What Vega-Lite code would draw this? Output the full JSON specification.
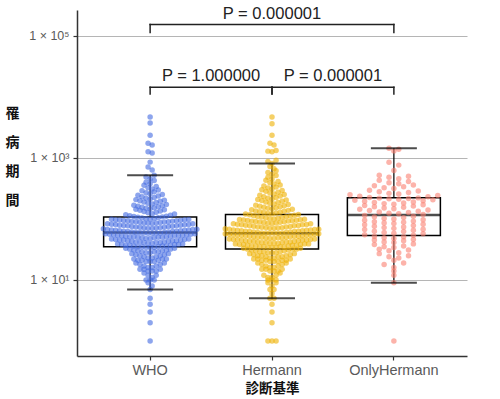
{
"$schema": "https://vega.github.io/schema/vega-lite/v6.json",
"width": 390, "height": 346,
"autosize": "none",
"padding": {"left": 77, "top": 10, "right": 33, "bottom": 43},
"config": {"font": "Liberation Sans", "view": {"stroke": null}},
"data": {"values": [
{"g":"WHO","v":1},{"g":"WHO","v":2},{"g":"WHO","v":3},{"g":"WHO","v":4},{"g":"WHO","v":5},{"g":"WHO","v":7},{"g":"WHO","v":8},{"g":"WHO","v":9},{"g":"WHO","v":10},{"g":"WHO","v":10},{"g":"WHO","v":10},{"g":"WHO","v":11},{"g":"WHO","v":12},{"g":"WHO","v":12},{"g":"WHO","v":13},{"g":"WHO","v":14},{"g":"WHO","v":14},{"g":"WHO","v":14},{"g":"WHO","v":15},{"g":"WHO","v":15},{"g":"WHO","v":15},
{"g":"WHO","v":16},{"g":"WHO","v":16},{"g":"WHO","v":17},{"g":"WHO","v":17},{"g":"WHO","v":18},{"g":"WHO","v":18},{"g":"WHO","v":19},{"g":"WHO","v":19},
{"g":"WHO","v":20},{"g":"WHO","v":20},{"g":"WHO","v":20},{"g":"WHO","v":21},{"g":"WHO","v":21},{"g":"WHO","v":21},{"g":"WHO","v":22},{"g":"WHO","v":22},{"g":"WHO","v":22},
{"g":"WHO","v":23},{"g":"WHO","v":23},{"g":"WHO","v":24},{"g":"WHO","v":24},{"g":"WHO","v":25},{"g":"WHO","v":25},{"g":"WHO","v":26},{"g":"WHO","v":26},{"g":"WHO","v":27},{"g":"WHO","v":27},
{"g":"WHO","v":28},{"g":"WHO","v":28},{"g":"WHO","v":29},{"g":"WHO","v":29},{"g":"WHO","v":29},{"g":"WHO","v":30},{"g":"WHO","v":30},{"g":"WHO","v":31},{"g":"WHO","v":31},{"g":"WHO","v":32},{"g":"WHO","v":32},{"g":"WHO","v":33},{"g":"WHO","v":33},
{"g":"WHO","v":34},{"g":"WHO","v":34},{"g":"WHO","v":34},{"g":"WHO","v":35},{"g":"WHO","v":35},{"g":"WHO","v":35},{"g":"WHO","v":36},{"g":"WHO","v":36},{"g":"WHO","v":36},{"g":"WHO","v":37},{"g":"WHO","v":37},{"g":"WHO","v":37},{"g":"WHO","v":38},{"g":"WHO","v":38},{"g":"WHO","v":38},{"g":"WHO","v":39},{"g":"WHO","v":39},
{"g":"WHO","v":40},{"g":"WHO","v":40},{"g":"WHO","v":41},{"g":"WHO","v":41},{"g":"WHO","v":41},{"g":"WHO","v":42},{"g":"WHO","v":42},{"g":"WHO","v":42},{"g":"WHO","v":43},{"g":"WHO","v":43},{"g":"WHO","v":44},{"g":"WHO","v":44},{"g":"WHO","v":44},{"g":"WHO","v":45},{"g":"WHO","v":45},{"g":"WHO","v":45},{"g":"WHO","v":46},{"g":"WHO","v":46},{"g":"WHO","v":47},{"g":"WHO","v":47},
{"g":"WHO","v":48},{"g":"WHO","v":48},{"g":"WHO","v":49},{"g":"WHO","v":49},{"g":"WHO","v":50},{"g":"WHO","v":50},{"g":"WHO","v":50},{"g":"WHO","v":51},{"g":"WHO","v":51},{"g":"WHO","v":51},{"g":"WHO","v":52},{"g":"WHO","v":52},{"g":"WHO","v":53},{"g":"WHO","v":53},{"g":"WHO","v":53},{"g":"WHO","v":54},{"g":"WHO","v":54},{"g":"WHO","v":55},{"g":"WHO","v":55},{"g":"WHO","v":56},{"g":"WHO","v":56},{"g":"WHO","v":57},{"g":"WHO","v":57},
{"g":"WHO","v":58},{"g":"WHO","v":58},{"g":"WHO","v":59},{"g":"WHO","v":59},{"g":"WHO","v":59},{"g":"WHO","v":60},{"g":"WHO","v":60},{"g":"WHO","v":60},{"g":"WHO","v":61},{"g":"WHO","v":61},{"g":"WHO","v":62},{"g":"WHO","v":62},{"g":"WHO","v":63},{"g":"WHO","v":63},{"g":"WHO","v":64},{"g":"WHO","v":64},{"g":"WHO","v":65},{"g":"WHO","v":65},{"g":"WHO","v":66},{"g":"WHO","v":66},{"g":"WHO","v":67},{"g":"WHO","v":67},{"g":"WHO","v":68},{"g":"WHO","v":69},
{"g":"WHO","v":70},{"g":"WHO","v":70},{"g":"WHO","v":71},{"g":"WHO","v":71},{"g":"WHO","v":72},{"g":"WHO","v":73},{"g":"WHO","v":73},{"g":"WHO","v":74},{"g":"WHO","v":75},{"g":"WHO","v":75},{"g":"WHO","v":76},{"g":"WHO","v":77},{"g":"WHO","v":77},{"g":"WHO","v":78},{"g":"WHO","v":79},{"g":"WHO","v":79},{"g":"WHO","v":80},{"g":"WHO","v":81},{"g":"WHO","v":81},{"g":"WHO","v":82},{"g":"WHO","v":83},{"g":"WHO","v":83},
{"g":"WHO","v":84},{"g":"WHO","v":85},{"g":"WHO","v":86},{"g":"WHO","v":86},{"g":"WHO","v":87},{"g":"WHO","v":88},{"g":"WHO","v":89},{"g":"WHO","v":90},{"g":"WHO","v":90},{"g":"WHO","v":91},{"g":"WHO","v":92},{"g":"WHO","v":93},{"g":"WHO","v":93},{"g":"WHO","v":94},{"g":"WHO","v":95},{"g":"WHO","v":96},{"g":"WHO","v":97},{"g":"WHO","v":97},{"g":"WHO","v":98},{"g":"WHO","v":99},
{"g":"WHO","v":100},{"g":"WHO","v":101},{"g":"WHO","v":102},{"g":"WHO","v":104},{"g":"WHO","v":105},{"g":"WHO","v":107},{"g":"WHO","v":108},{"g":"WHO","v":110},{"g":"WHO","v":111},{"g":"WHO","v":113},{"g":"WHO","v":115},{"g":"WHO","v":117},{"g":"WHO","v":120},
{"g":"WHO","v":122},{"g":"WHO","v":126},{"g":"WHO","v":129},{"g":"WHO","v":132},{"g":"WHO","v":135},{"g":"WHO","v":138},{"g":"WHO","v":141},{"g":"WHO","v":144},
{"g":"WHO","v":146},{"g":"WHO","v":149},{"g":"WHO","v":152},{"g":"WHO","v":155},{"g":"WHO","v":158},{"g":"WHO","v":161},{"g":"WHO","v":164},{"g":"WHO","v":168},{"g":"WHO","v":172},
{"g":"WHO","v":176},{"g":"WHO","v":180},{"g":"WHO","v":185},{"g":"WHO","v":190},{"g":"WHO","v":195},{"g":"WHO","v":199},{"g":"WHO","v":203},{"g":"WHO","v":207},
{"g":"WHO","v":212},{"g":"WHO","v":218},{"g":"WHO","v":225},{"g":"WHO","v":231},{"g":"WHO","v":237},{"g":"WHO","v":243},{"g":"WHO","v":250},
{"g":"WHO","v":258},{"g":"WHO","v":268},{"g":"WHO","v":278},{"g":"WHO","v":288},{"g":"WHO","v":298},
{"g":"WHO","v":310},{"g":"WHO","v":325},{"g":"WHO","v":340},{"g":"WHO","v":355},
{"g":"WHO","v":375},{"g":"WHO","v":400},{"g":"WHO","v":425},
{"g":"WHO","v":450},{"g":"WHO","v":485},{"g":"WHO","v":520},
{"g":"WHO","v":631},{"g":"WHO","v":708},{"g":"WHO","v":851},{"g":"WHO","v":1202},{"g":"WHO","v":1259},{"g":"WHO","v":1622},{"g":"WHO","v":1738},{"g":"WHO","v":2344},{"g":"WHO","v":3715},{"g":"WHO","v":4677},
{"g":"Hermann","v":1},{"g":"Hermann","v":1},{"g":"Hermann","v":1},{"g":"Hermann","v":2},{"g":"Hermann","v":3},{"g":"Hermann","v":4},{"g":"Hermann","v":5},{"g":"Hermann","v":5},{"g":"Hermann","v":6},{"g":"Hermann","v":7},{"g":"Hermann","v":7},{"g":"Hermann","v":8},{"g":"Hermann","v":9},{"g":"Hermann","v":9},{"g":"Hermann","v":10},{"g":"Hermann","v":10},{"g":"Hermann","v":10},{"g":"Hermann","v":11},{"g":"Hermann","v":11},{"g":"Hermann","v":12},{"g":"Hermann","v":12},{"g":"Hermann","v":13},{"g":"Hermann","v":14},{"g":"Hermann","v":14},{"g":"Hermann","v":14},{"g":"Hermann","v":15},{"g":"Hermann","v":15},{"g":"Hermann","v":15},
{"g":"Hermann","v":16},{"g":"Hermann","v":16},{"g":"Hermann","v":17},{"g":"Hermann","v":17},{"g":"Hermann","v":18},{"g":"Hermann","v":18},{"g":"Hermann","v":19},{"g":"Hermann","v":19},
{"g":"Hermann","v":20},{"g":"Hermann","v":20},{"g":"Hermann","v":20},{"g":"Hermann","v":21},{"g":"Hermann","v":21},{"g":"Hermann","v":21},{"g":"Hermann","v":21},{"g":"Hermann","v":22},{"g":"Hermann","v":22},{"g":"Hermann","v":22},
{"g":"Hermann","v":23},{"g":"Hermann","v":23},{"g":"Hermann","v":24},{"g":"Hermann","v":24},{"g":"Hermann","v":24},{"g":"Hermann","v":25},{"g":"Hermann","v":25},{"g":"Hermann","v":25},{"g":"Hermann","v":26},{"g":"Hermann","v":26},{"g":"Hermann","v":27},{"g":"Hermann","v":27},
{"g":"Hermann","v":28},{"g":"Hermann","v":28},{"g":"Hermann","v":28},{"g":"Hermann","v":29},{"g":"Hermann","v":29},{"g":"Hermann","v":29},{"g":"Hermann","v":30},{"g":"Hermann","v":30},{"g":"Hermann","v":31},{"g":"Hermann","v":31},{"g":"Hermann","v":32},{"g":"Hermann","v":32},{"g":"Hermann","v":32},{"g":"Hermann","v":33},{"g":"Hermann","v":33},
{"g":"Hermann","v":34},{"g":"Hermann","v":34},{"g":"Hermann","v":34},{"g":"Hermann","v":35},{"g":"Hermann","v":35},{"g":"Hermann","v":35},{"g":"Hermann","v":35},{"g":"Hermann","v":36},{"g":"Hermann","v":36},{"g":"Hermann","v":36},{"g":"Hermann","v":37},{"g":"Hermann","v":37},{"g":"Hermann","v":37},{"g":"Hermann","v":38},{"g":"Hermann","v":38},{"g":"Hermann","v":38},{"g":"Hermann","v":39},{"g":"Hermann","v":39},{"g":"Hermann","v":39},
{"g":"Hermann","v":40},{"g":"Hermann","v":40},{"g":"Hermann","v":40},{"g":"Hermann","v":41},{"g":"Hermann","v":41},{"g":"Hermann","v":41},{"g":"Hermann","v":42},{"g":"Hermann","v":42},{"g":"Hermann","v":42},{"g":"Hermann","v":43},{"g":"Hermann","v":43},{"g":"Hermann","v":43},{"g":"Hermann","v":44},{"g":"Hermann","v":44},{"g":"Hermann","v":45},{"g":"Hermann","v":45},{"g":"Hermann","v":45},{"g":"Hermann","v":46},{"g":"Hermann","v":46},{"g":"Hermann","v":46},{"g":"Hermann","v":47},{"g":"Hermann","v":47},
{"g":"Hermann","v":48},{"g":"Hermann","v":48},{"g":"Hermann","v":49},{"g":"Hermann","v":49},{"g":"Hermann","v":49},{"g":"Hermann","v":50},{"g":"Hermann","v":50},{"g":"Hermann","v":50},{"g":"Hermann","v":51},{"g":"Hermann","v":51},{"g":"Hermann","v":52},{"g":"Hermann","v":52},{"g":"Hermann","v":52},{"g":"Hermann","v":53},{"g":"Hermann","v":53},{"g":"Hermann","v":54},{"g":"Hermann","v":54},{"g":"Hermann","v":55},{"g":"Hermann","v":55},{"g":"Hermann","v":55},{"g":"Hermann","v":56},{"g":"Hermann","v":56},{"g":"Hermann","v":57},{"g":"Hermann","v":57},
{"g":"Hermann","v":58},{"g":"Hermann","v":58},{"g":"Hermann","v":58},{"g":"Hermann","v":59},{"g":"Hermann","v":59},{"g":"Hermann","v":59},{"g":"Hermann","v":60},{"g":"Hermann","v":60},{"g":"Hermann","v":61},{"g":"Hermann","v":61},{"g":"Hermann","v":62},{"g":"Hermann","v":62},{"g":"Hermann","v":63},{"g":"Hermann","v":63},{"g":"Hermann","v":64},{"g":"Hermann","v":64},{"g":"Hermann","v":65},{"g":"Hermann","v":65},{"g":"Hermann","v":66},{"g":"Hermann","v":66},{"g":"Hermann","v":67},{"g":"Hermann","v":68},{"g":"Hermann","v":68},{"g":"Hermann","v":69},
{"g":"Hermann","v":70},{"g":"Hermann","v":70},{"g":"Hermann","v":71},{"g":"Hermann","v":72},{"g":"Hermann","v":72},{"g":"Hermann","v":73},{"g":"Hermann","v":74},{"g":"Hermann","v":74},{"g":"Hermann","v":75},{"g":"Hermann","v":76},{"g":"Hermann","v":77},{"g":"Hermann","v":77},{"g":"Hermann","v":78},{"g":"Hermann","v":79},{"g":"Hermann","v":80},{"g":"Hermann","v":80},{"g":"Hermann","v":81},{"g":"Hermann","v":82},{"g":"Hermann","v":83},{"g":"Hermann","v":83},
{"g":"Hermann","v":84},{"g":"Hermann","v":85},{"g":"Hermann","v":86},{"g":"Hermann","v":87},{"g":"Hermann","v":88},{"g":"Hermann","v":89},{"g":"Hermann","v":90},{"g":"Hermann","v":91},{"g":"Hermann","v":92},{"g":"Hermann","v":92},{"g":"Hermann","v":93},{"g":"Hermann","v":94},{"g":"Hermann","v":95},{"g":"Hermann","v":96},{"g":"Hermann","v":97},{"g":"Hermann","v":98},{"g":"Hermann","v":99},
{"g":"Hermann","v":100},{"g":"Hermann","v":101},{"g":"Hermann","v":103},{"g":"Hermann","v":104},{"g":"Hermann","v":106},{"g":"Hermann","v":107},{"g":"Hermann","v":109},{"g":"Hermann","v":110},{"g":"Hermann","v":112},{"g":"Hermann","v":113},{"g":"Hermann","v":115},{"g":"Hermann","v":117},{"g":"Hermann","v":118},{"g":"Hermann","v":120},
{"g":"Hermann","v":121},{"g":"Hermann","v":123},{"g":"Hermann","v":125},{"g":"Hermann","v":127},{"g":"Hermann","v":129},{"g":"Hermann","v":131},{"g":"Hermann","v":133},{"g":"Hermann","v":135},{"g":"Hermann","v":138},{"g":"Hermann","v":141},{"g":"Hermann","v":144},
{"g":"Hermann","v":146},{"g":"Hermann","v":149},{"g":"Hermann","v":152},{"g":"Hermann","v":155},{"g":"Hermann","v":158},{"g":"Hermann","v":161},{"g":"Hermann","v":164},{"g":"Hermann","v":168},{"g":"Hermann","v":172},
{"g":"Hermann","v":175},{"g":"Hermann","v":180},{"g":"Hermann","v":185},{"g":"Hermann","v":190},{"g":"Hermann","v":195},{"g":"Hermann","v":200},{"g":"Hermann","v":204},{"g":"Hermann","v":208},
{"g":"Hermann","v":212},{"g":"Hermann","v":218},{"g":"Hermann","v":225},{"g":"Hermann","v":231},{"g":"Hermann","v":237},{"g":"Hermann","v":244},{"g":"Hermann","v":250},
{"g":"Hermann","v":256},{"g":"Hermann","v":265},{"g":"Hermann","v":274},{"g":"Hermann","v":283},{"g":"Hermann","v":292},{"g":"Hermann","v":300},
{"g":"Hermann","v":308},{"g":"Hermann","v":320},{"g":"Hermann","v":333},{"g":"Hermann","v":346},{"g":"Hermann","v":360},
{"g":"Hermann","v":372},{"g":"Hermann","v":390},{"g":"Hermann","v":410},{"g":"Hermann","v":430},
{"g":"Hermann","v":450},{"g":"Hermann","v":480},{"g":"Hermann","v":515},
{"g":"Hermann","v":540},{"g":"Hermann","v":575},{"g":"Hermann","v":615},
{"g":"Hermann","v":660},{"g":"Hermann","v":720},{"g":"Hermann","v":810},
{"g":"Hermann","v":870},{"g":"Hermann","v":912},{"g":"Hermann","v":1259},{"g":"Hermann","v":1288},{"g":"Hermann","v":1318},{"g":"Hermann","v":1622},{"g":"Hermann","v":1738},{"g":"Hermann","v":2344},{"g":"Hermann","v":3631},{"g":"Hermann","v":4677},
{"g":"OnlyHermann","v":1},{"g":"OnlyHermann","v":9},{"g":"OnlyHermann","v":12},{"g":"OnlyHermann","v":14},{"g":"OnlyHermann","v":16},{"g":"OnlyHermann","v":18},{"g":"OnlyHermann","v":19},{"g":"OnlyHermann","v":21},{"g":"OnlyHermann","v":23},{"g":"OnlyHermann","v":24},{"g":"OnlyHermann","v":25},
{"g":"OnlyHermann","v":27},{"g":"OnlyHermann","v":28},{"g":"OnlyHermann","v":30},{"g":"OnlyHermann","v":31},{"g":"OnlyHermann","v":32},{"g":"OnlyHermann","v":34},{"g":"OnlyHermann","v":35},{"g":"OnlyHermann","v":36},{"g":"OnlyHermann","v":38},{"g":"OnlyHermann","v":39},{"g":"OnlyHermann","v":41},{"g":"OnlyHermann","v":42},{"g":"OnlyHermann","v":44},{"g":"OnlyHermann","v":45},{"g":"OnlyHermann","v":46},{"g":"OnlyHermann","v":48},{"g":"OnlyHermann","v":49},{"g":"OnlyHermann","v":51},{"g":"OnlyHermann","v":52},
{"g":"OnlyHermann","v":54},
{"g":"OnlyHermann","v":55},{"g":"OnlyHermann","v":57},{"g":"OnlyHermann","v":58},{"g":"OnlyHermann","v":60},{"g":"OnlyHermann","v":62},{"g":"OnlyHermann","v":63},{"g":"OnlyHermann","v":65},{"g":"OnlyHermann","v":67},{"g":"OnlyHermann","v":68},{"g":"OnlyHermann","v":70},{"g":"OnlyHermann","v":72},{"g":"OnlyHermann","v":74},{"g":"OnlyHermann","v":76},{"g":"OnlyHermann","v":78},{"g":"OnlyHermann","v":80},{"g":"OnlyHermann","v":82},{"g":"OnlyHermann","v":84},{"g":"OnlyHermann","v":86},{"g":"OnlyHermann","v":88},{"g":"OnlyHermann","v":90},{"g":"OnlyHermann","v":92},{"g":"OnlyHermann","v":95},{"g":"OnlyHermann","v":97},{"g":"OnlyHermann","v":100},{"g":"OnlyHermann","v":102},{"g":"OnlyHermann","v":105},{"g":"OnlyHermann","v":108},{"g":"OnlyHermann","v":111},{"g":"OnlyHermann","v":114},
{"g":"OnlyHermann","v":118},
{"g":"OnlyHermann","v":121},{"g":"OnlyHermann","v":124},{"g":"OnlyHermann","v":127},{"g":"OnlyHermann","v":130},{"g":"OnlyHermann","v":133},{"g":"OnlyHermann","v":137},{"g":"OnlyHermann","v":140},{"g":"OnlyHermann","v":144},{"g":"OnlyHermann","v":147},{"g":"OnlyHermann","v":151},{"g":"OnlyHermann","v":155},{"g":"OnlyHermann","v":158},{"g":"OnlyHermann","v":162},{"g":"OnlyHermann","v":166},{"g":"OnlyHermann","v":170},{"g":"OnlyHermann","v":174},{"g":"OnlyHermann","v":178},{"g":"OnlyHermann","v":182},{"g":"OnlyHermann","v":186},{"g":"OnlyHermann","v":190},{"g":"OnlyHermann","v":194},{"g":"OnlyHermann","v":198},{"g":"OnlyHermann","v":202},{"g":"OnlyHermann","v":206},{"g":"OnlyHermann","v":210},{"g":"OnlyHermann","v":213},{"g":"OnlyHermann","v":216},{"g":"OnlyHermann","v":219},{"g":"OnlyHermann","v":221},
{"g":"OnlyHermann","v":225},{"g":"OnlyHermann","v":230},{"g":"OnlyHermann","v":236},{"g":"OnlyHermann","v":242},{"g":"OnlyHermann","v":248},{"g":"OnlyHermann","v":255},{"g":"OnlyHermann","v":262},{"g":"OnlyHermann","v":270},{"g":"OnlyHermann","v":278},{"g":"OnlyHermann","v":286},
{"g":"OnlyHermann","v":295},{"g":"OnlyHermann","v":315},{"g":"OnlyHermann","v":325},{"g":"OnlyHermann","v":336},{"g":"OnlyHermann","v":348},{"g":"OnlyHermann","v":360},{"g":"OnlyHermann","v":375},{"g":"OnlyHermann","v":392},{"g":"OnlyHermann","v":410},{"g":"OnlyHermann","v":430},
{"g":"OnlyHermann","v":455},{"g":"OnlyHermann","v":480},{"g":"OnlyHermann","v":500},{"g":"OnlyHermann","v":520},{"g":"OnlyHermann","v":620},{"g":"OnlyHermann","v":760},{"g":"OnlyHermann","v":850},{"g":"OnlyHermann","v":1300},{"g":"OnlyHermann","v":1380},{"g":"OnlyHermann","v":1430}
]},
"layer": [
 {
  "encoding": {
   "x": {"field": "g", "type": "nominal", "sort": ["WHO","Hermann","OnlyHermann"],
    "scale": {"domain": ["WHO","Hermann","OnlyHermann"], "paddingInner": 0, "paddingOuter": 0.1},
    "axis": {"title": "診断基準", "labelAngle": 0, "labelColor": "#5a5a5a", "labelFontSize": 14.5, "labelPadding": 3,
      "tickColor": "#333333", "tickSize": 4, "tickWidth": 1.2, "domainColor": "#333333", "domainWidth": 1.5, "grid": false,
      "titleFont": "Noto Sans CJK JP", "titleFontSize": 13.5, "titleFontWeight": "bold", "titleColor": "#111111", "titlePadding": 5}}
  },
  "layer": [
   {
    "transform": [
     {"joinaggregate": [{"op": "q1", "field": "v", "as": "q1"}, {"op": "q3", "field": "v", "as": "q3"}, {"op": "median", "field": "v", "as": "med"}], "groupby": ["g"]},
     {"calculate": "datum.q1 * pow(datum.q1 / datum.q3, 1.5)", "as": "lo"},
     {"calculate": "datum.q3 * pow(datum.q3 / datum.q1, 1.5)", "as": "hi"},
     {"filter": "datum.v >= datum.lo && datum.v <= datum.hi"},
     {"aggregate": [{"op": "min", "field": "v", "as": "wmin"}, {"op": "max", "field": "v", "as": "wmax"}, {"op": "min", "field": "q1", "as": "bq1"}, {"op": "min", "field": "q3", "as": "bq3"}, {"op": "min", "field": "med", "as": "bmed"}], "groupby": ["g"]}
    ],
    "layer": [
     {"mark": {"type": "rule", "color": "black", "strokeWidth": 1.2},
      "encoding": {"y": {"field": "wmin", "type": "quantitative", "scale": {"type": "log", "domain": [0.569, 263600], "nice": false}}, "y2": {"field": "wmax"}}},
     {"mark": {"type": "bar", "width": 93, "fill": "white", "stroke": "black", "strokeWidth": 1.5},
      "encoding": {"y": {"field": "bq1", "type": "quantitative", "scale": {"type": "log", "domain": [0.569, 263600], "nice": false}}, "y2": {"field": "bq3"}}},
     {"mark": {"type": "tick", "size": 93, "thickness": 2.5, "color": "black"},
      "encoding": {"y": {"field": "bmed", "type": "quantitative", "scale": {"type": "log", "domain": [0.569, 263600], "nice": false}}}}
    ]
   },
   {
    "transform": [
     {"calculate": "floor(log(datum.v) / LN10 * 12.5)", "as": "lb"},
     {"window": [{"op": "row_number", "as": "rn"}], "groupby": ["g", "lb"], "sort": [{"field": "v"}]},
     {"joinaggregate": [{"op": "count", "as": "bn"}], "groupby": ["g", "lb"]},
     {"joinaggregate": [{"op": "max", "field": "bn", "as": "mx"}], "groupby": ["g"]},
     {"calculate": "((datum.rn % 2 == 1) ? (datum.rn - 1) / 2 : -datum.rn / 2) + (datum.bn % 2 == 0 ? 0.5 : 0)", "as": "s"},
     {"calculate": "datum.s / (datum.mx / 2)", "as": "off"}
    ],
    "mark": {"type": "circle", "size": 30, "opacity": 0.6},
    "encoding": {
     "xOffset": {"field": "off", "type": "quantitative", "scale": {"domain": [-1.25, 1.25]}},
     "y": {"field": "v", "type": "quantitative", "scale": {"type": "log", "domain": [0.569, 263600], "nice": false},
      "axis": {"values": [10, 1000, 100000],
       "labelExpr": "datum.value == 10 ? '1 × 10¹' : datum.value == 1000 ? '1 × 10³' : '1 × 10⁵'",
       "grid": true, "gridColor": "#b5b5b5", "gridWidth": 1,
       "domainColor": "#333333", "domainWidth": 1.5, "tickColor": "#333333", "tickSize": 4, "tickWidth": 1.2,
       "labelColor": "#5a5a5a", "labelFontSize": 12.5, "labelPadding": 4,
       "title": ["罹", "病", "期", "間"], "titleAngle": 0, "titleX": -65, "titleY": 103, "titleBaseline": "middle", "titleAlign": "center",
       "titleLineHeight": 29, "titleFontSize": 14, "titleFontWeight": "bold", "titleFont": "Noto Sans CJK JP", "titleColor": "#111111"}},
     "color": {"field": "g", "type": "nominal", "scale": {"domain": ["WHO","Hermann","OnlyHermann"], "range": ["#4169E1", "#EFB000", "#FA8072"]}, "legend": null}
    }
   },
   {
    "transform": [
     {"joinaggregate": [{"op": "q1", "field": "v", "as": "q1"}, {"op": "q3", "field": "v", "as": "q3"}], "groupby": ["g"]},
     {"calculate": "datum.q1 * pow(datum.q1 / datum.q3, 1.5)", "as": "lo"},
     {"calculate": "datum.q3 * pow(datum.q3 / datum.q1, 1.5)", "as": "hi"},
     {"filter": "datum.v >= datum.lo && datum.v <= datum.hi"},
     {"aggregate": [{"op": "min", "field": "v", "as": "wmin"}, {"op": "max", "field": "v", "as": "wmax"}], "groupby": ["g"]},
     {"fold": ["wmin", "wmax"], "as": ["end", "wv"]}
    ],
    "mark": {"type": "tick", "size": 46, "thickness": 2, "color": "black"},
    "encoding": {"y": {"field": "wv", "type": "quantitative", "scale": {"type": "log", "domain": [0.569, 263600], "nice": false}}}
   }
  ]
 },
 {
  "data": {"values": [
   {"a": 1, "b": 3, "y": 153000, "ye": 113000, "t": 2, "ty": 224000, "label": "P = 0.000001"},
   {"a": 1, "b": 2, "y": 14300, "ye": 11100, "t": 1.5, "ty": 21900, "label": "P = 1.000000"},
   {"a": 2, "b": 3, "y": 14300, "ye": 11100, "t": 2.5, "ty": 21900, "label": "P = 0.000001"}
  ]},
  "layer": [
   {"mark": {"type": "rule", "color": "#222222", "strokeWidth": 1.5, "strokeCap": "square"},
    "encoding": {"x": {"field": "a", "type": "quantitative", "scale": {"domain": [0.4, 3.6], "nice": false, "zero": false}, "axis": null}, "x2": {"field": "b"},
     "y": {"field": "y", "type": "quantitative", "scale": {"type": "log", "domain": [0.569, 263600], "nice": false}}}},
   {"mark": {"type": "rule", "color": "#222222", "strokeWidth": 1.5, "strokeCap": "square"},
    "encoding": {"x": {"field": "a", "type": "quantitative", "scale": {"domain": [0.4, 3.6], "nice": false, "zero": false}, "axis": null},
     "y": {"field": "y", "type": "quantitative", "scale": {"type": "log", "domain": [0.569, 263600], "nice": false}}, "y2": {"field": "ye"}}},
   {"mark": {"type": "rule", "color": "#222222", "strokeWidth": 1.5, "strokeCap": "square"},
    "encoding": {"x": {"field": "b", "type": "quantitative", "scale": {"domain": [0.4, 3.6], "nice": false, "zero": false}, "axis": null},
     "y": {"field": "y", "type": "quantitative", "scale": {"type": "log", "domain": [0.569, 263600], "nice": false}}, "y2": {"field": "ye"}}},
   {"mark": {"type": "text", "fontSize": 16.5, "color": "#222222", "baseline": "middle", "align": "center"},
    "encoding": {"x": {"field": "t", "type": "quantitative", "scale": {"domain": [0.4, 3.6], "nice": false, "zero": false}, "axis": null},
     "y": {"field": "ty", "type": "quantitative", "scale": {"type": "log", "domain": [0.569, 263600], "nice": false}},
     "text": {"field": "label"}}}
  ]
 }
],
"resolve": {"scale": {"x": "independent"}}
}
